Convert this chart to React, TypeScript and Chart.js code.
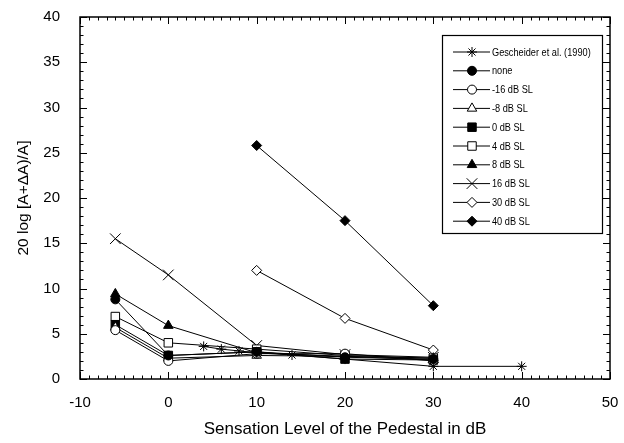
import React, { useEffect, useRef } from 'react';
import { Chart, registerables } from 'chart.js';
import { drawPoint } from 'chart.js/helpers';

Chart.register(...registerables);

// ---- data ----
const pedestalSL = [-6, 0, 10, 20, 30];
const highPedestalSL = [10, 20, 30];
const gescheiderSL = [4, 6, 8, 10, 14, 20, 30, 40];

const gescheider = [3.6, 3.3, 3.1, 2.9, 2.65, 2.2, 1.4, 1.4];
const noneMask = [8.8, 2.6, 3.0, 2.4, 2.2];
const minus16 = [5.4, 2.0, 2.8, 2.8, 2.0];
const minus8 = [5.7, 2.3, 2.6, 2.5, 2.1];
const sl0 = [6.0, 2.6, 3.0, 2.2, 2.1];
const sl4 = [6.9, 4.0, 3.3, 2.6, 2.3];
const sl8 = [9.4, 5.9, 2.9, 2.5, 2.3];
const sl16 = [15.5, 11.5, 3.7, 2.7, 2.4];
const sl30 = [12.0, 6.7, 3.2];
const sl40 = [25.8, 17.5, 8.1];

const seriesLabels = [
  'Gescheider et al. (1990)',
  'none',
  '-16 dB SL',
  '-8 dB SL',
  '0 dB SL',
  '4 dB SL',
  '8 dB SL',
  '16 dB SL',
  '30 dB SL',
  '40 dB SL',
];

const xMin = -10;
const xMax = 50;
const xStep = 10;
const yMin = 0;
const yMax = 40;
const yStep = 5;

const xTitle = 'Sensation Level of the Pedestal in dB';
const yTitle = '20 log [A+\u0394A)/A]';

const toPoints = (xs: number[], ys: number[]) => xs.map((x, i) => ({ x, y: ys[i] }));

type Style = { pointStyle: string; filled: boolean; radius: number };
const styles: Style[] = [
  { pointStyle: 'star', filled: false, radius: 5 },
  { pointStyle: 'circle', filled: true, radius: 4.5 },
  { pointStyle: 'circle', filled: false, radius: 4.5 },
  { pointStyle: 'triangle', filled: false, radius: 5.5 },
  { pointStyle: 'rect', filled: true, radius: 6 },
  { pointStyle: 'rect', filled: false, radius: 6 },
  { pointStyle: 'triangle', filled: true, radius: 5.5 },
  { pointStyle: 'crossRot', filled: false, radius: 7.5 },
  { pointStyle: 'rectRot', filled: false, radius: 5 },
  { pointStyle: 'rectRot', filled: true, radius: 5 },
];

const seriesData = [
  toPoints(gescheiderSL, gescheider),
  toPoints(pedestalSL, noneMask),
  toPoints(pedestalSL, minus16),
  toPoints(pedestalSL, minus8),
  toPoints(pedestalSL, sl0),
  toPoints(pedestalSL, sl4),
  toPoints(pedestalSL, sl8),
  toPoints(pedestalSL, sl16),
  toPoints(highPedestalSL, sl30),
  toPoints(highPedestalSL, sl40),
];

const framePlugin = {
  id: 'frameTicks',
  afterDraw(chart: any) {
    const { ctx, chartArea, scales } = chart;
    const { left, right, top, bottom } = chartArea;
    const xs = scales.x;
    const ys = scales.y;
    ctx.save();
    ctx.strokeStyle = '#000';
    ctx.lineWidth = 1.5;
    ctx.strokeRect(left, top, right - left, bottom - top);
    ctx.lineWidth = 1;
    ctx.beginPath();
    for (let v = xMin; v <= xMax; v += 1) {
      const px = Math.round(xs.getPixelForValue(v)) + 0.5;
      const len = v % 10 === 0 ? 7 : 3.5;
      ctx.moveTo(px, bottom);
      ctx.lineTo(px, bottom - len);
      ctx.moveTo(px, top);
      ctx.lineTo(px, top + len);
    }
    for (let v = yMin; v <= yMax; v += 1) {
      const py = Math.round(ys.getPixelForValue(v)) + 0.5;
      const len = v % 5 === 0 ? 7 : 3.5;
      ctx.moveTo(left, py);
      ctx.lineTo(left + len, py);
      ctx.moveTo(right, py);
      ctx.lineTo(right - len, py);
    }
    ctx.stroke();

    // legend box
    const bx = 442;
    const by = 35;
    const bw = 160;
    const bh = 198;
    ctx.fillStyle = '#fff';
    ctx.fillRect(bx, by, bw, bh);
    ctx.lineWidth = 1.2;
    ctx.strokeRect(bx + 0.5, by + 0.5, bw, bh);
    ctx.font = '11.5px "Liberation Sans", Arial, sans-serif';
    ctx.textBaseline = 'middle';
    ctx.textAlign = 'left';
    chart.data.datasets.forEach((ds: any, i: number) => {
      const ry = 52 + i * 18.8;
      ctx.strokeStyle = '#000';
      ctx.lineWidth = 1;
      ctx.beginPath();
      ctx.moveTo(453, ry);
      ctx.lineTo(490, ry);
      ctx.stroke();
      ctx.fillStyle = ds.pointBackgroundColor;
      ctx.strokeStyle = '#000';
      ctx.lineWidth = 1;
      drawPoint(ctx, { pointStyle: ds.pointStyle, radius: ds.pointRadius, rotation: 0, borderWidth: 1 } as any, 472, ry);
      ctx.fillStyle = '#000';
      ctx.save();
      ctx.translate(492, ry + 0.5);
      ctx.scale(0.8, 1);
      ctx.fillText(ds.label, 0, 0);
      ctx.restore();
    });
    ctx.restore();
  },
};

export default function App() {
  const canvasRef = useRef<HTMLCanvasElement | null>(null);

  useEffect(() => {
    if (!canvasRef.current) return;
    const datasets = seriesData.map((data, i) => ({
      label: seriesLabels[i],
      data,
      borderColor: '#000',
      borderWidth: 1,
      pointStyle: styles[i].pointStyle,
      pointRadius: styles[i].radius,
      pointBackgroundColor: styles[i].filled ? '#000' : '#fff',
      pointBorderColor: '#000',
      pointBorderWidth: 1,
      fill: false,
      tension: 0,
    }));
    const chart = new Chart(canvasRef.current, {
      type: 'line',
      data: { datasets } as any,
      plugins: [framePlugin],
      options: {
        responsive: false,
        animation: false,
        layout: { padding: { top: 17, right: 14, left: 0, bottom: 0 } },
        plugins: {
          legend: { display: false },
          tooltip: { enabled: false },
        },
        scales: {
          x: {
            type: 'linear',
            min: xMin,
            max: xMax,
            grid: { display: false, drawTicks: false },
            border: { display: false },
            ticks: {
              stepSize: xStep,
              color: '#000',
              padding: 15,
              font: { family: '"Liberation Sans", Arial, sans-serif', size: 15 },
            },
            title: {
              display: true,
              text: xTitle,
              color: '#000',
              padding: { top: 0, bottom: 3 },
              font: { family: '"Liberation Sans", Arial, sans-serif', size: 17 },
            },
            afterFit: (s: any) => {
              s.height = 64;
              s.paddingLeft = 0;
              s.paddingRight = 0;
            },
          },
          y: {
            type: 'linear',
            min: yMin,
            max: yMax,
            grid: { display: false, drawTicks: false },
            border: { display: false },
            ticks: {
              stepSize: yStep,
              color: '#000',
              padding: 20,
              font: { family: '"Liberation Sans", Arial, sans-serif', size: 15 },
            },
            title: {
              display: true,
              text: yTitle,
              color: '#000',
              padding: { top: 14, bottom: 0 },
              font: { family: '"Liberation Sans", Arial, sans-serif', size: 15.5 },
            },
            afterFit: (s: any) => {
              s.width = 80;
              s.paddingTop = 0;
              s.paddingBottom = 0;
            },
          },
        },
      } as any,
    });
    return () => chart.destroy();
  }, []);

  return (
    <div style={{ position: 'absolute', left: 0, top: 0, width: 624, height: 443, background: '#fff' }}>
      <canvas ref={canvasRef} width={624} height={443} style={{ display: 'block' }} />
    </div>
  );
}
